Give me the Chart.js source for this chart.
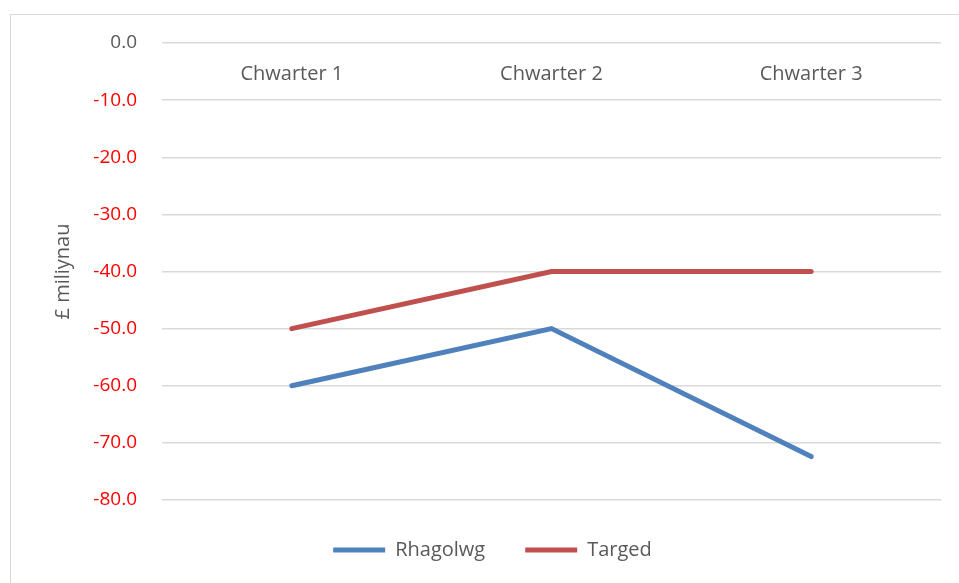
<!DOCTYPE html>
<html>
<head>
<meta charset="utf-8">
<script src="https://cdn.jsdelivr.net/npm/chart.js@4.4.0/dist/chart.umd.min.js"></script>
<style>
  html, body { margin: 0; padding: 0; background: #fff; }
  #wrap { position: relative; width: 959px; height: 583px; }
  #frame { position: absolute; left: 10px; top: 14px; width: 960px; height: 600px; border: 1px solid #d9d9d9; box-sizing: border-box; }
  canvas { position: absolute; left: 0; top: 0; }
</style>
</head>
<body>
<div id="wrap">
  <div id="frame"></div>
  <canvas id="chart" width="959" height="583"></canvas>
</div>
<script>
const categories = ['Chwarter 1', 'Chwarter 2', 'Chwarter 3'];
const rhagolwg = [-60, -50, -72.4];
const targed = [-50, -40, -40];
const yTicks = [0, -10, -20, -30, -40, -50, -60, -70, -80];

const grey = '#595959';
Chart.defaults.font.family = '"Open Sans", "Noto Sans", sans-serif';
Chart.defaults.font.size = 19;
Chart.defaults.color = grey;

const ctx = document.getElementById('chart').getContext('2d');
new Chart(ctx, {
    type: 'line',
    data: {
        labels: categories,
        datasets: [{
            label: 'Rhagolwg',
            data: rhagolwg,
            borderColor: '#4f81bd',
            backgroundColor: '#4f81bd',
            borderWidth: 5,
            pointRadius: 0,
            borderCapStyle: 'round',
            tension: 0
        }, {
            label: 'Targed',
            data: targed,
            borderColor: '#c0504d',
            backgroundColor: '#c0504d',
            borderWidth: 5,
            pointRadius: 0,
            borderCapStyle: 'round',
            tension: 0
        }]
    },
    options: {
        responsive: false,
        animation: false,
        layout: { padding: { left: 44, right: 18, top: 43, bottom: 13 } },
        plugins: {
            tooltip: { enabled: false },
            legend: {
                position: 'bottom',
                labels: {
                    usePointStyle: true,
                    pointStyle: 'line',
                    pointStyleWidth: 52,
                    padding: 40,
                    color: grey,
                    font: { size: 20 }
                }
            }
        },
        scales: {
            x: {
                position: { y: 0 },
                offset: true,
                grid: { display: false, drawTicks: false },
                border: { display: false },
                ticks: { padding: 19, color: grey, font: { size: 20 } }
            },
            y: {
                min: -80,
                max: 0,
                afterBuildTicks: scale => { scale.ticks = yTicks.map(v => ({ value: v })); },
                afterFit: scale => { scale.width = 118; },
                grid: { color: '#d9d9d9', lineWidth: 1.5, drawTicks: false },
                border: { display: false },
                ticks: {
                    padding: 25,
                    callback: v => v.toFixed(1),
                    color: c => c.tick && c.tick.value < 0 ? '#ff0000' : grey
                },
                title: { display: true, text: '£ miliynau', color: grey, padding: { top: 7, bottom: 0 }, font: { size: 20 } }
            }
        }
    }
});
</script>
</body>
</html>
